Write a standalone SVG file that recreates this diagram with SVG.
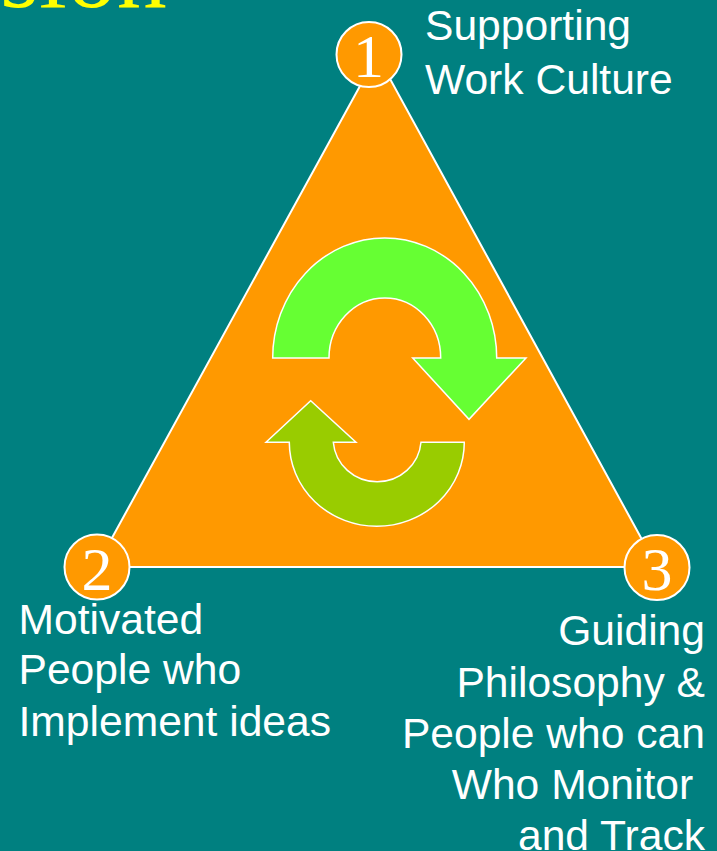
<svg xmlns="http://www.w3.org/2000/svg" width="717" height="851" viewBox="0 0 717 851">
<style>
.lbl{font-family:"Liberation Sans",Arial,sans-serif;font-size:42.6px;fill:#fff}
.num{font-family:"Liberation Serif","Times New Roman",serif;font-size:62px;fill:#fff;text-anchor:middle}
.badge{fill:#FF9900;stroke:#fff;stroke-width:2}
.arr{stroke:#fff;stroke-width:1.5;stroke-linejoin:miter}
</style>
<rect width="717" height="851" fill="#008080"/>
<text x="0" y="6.5" font-family="'Liberation Serif','Times New Roman',serif" font-size="100" fill="#FFFF00">sion</text>
<g id="triangle">
<polygon points="377,55 96,567 657,567" fill="#FF9900" stroke="#fff" stroke-width="2"/>
</g>
<g id="cycle">
<path class="arr" fill="#66FF33" d="M272.7,358 A112,120 0 0 1 496.7,358 L526,358 L469,419.3 L412.7,358 L440.7,358 A55.8,60 0 0 0 329,358 Z"/>
<path class="arr" fill="#99CC00" d="M464.3,442.3 A87.5,84 0 0 1 289.3,442.3 L266,442.3 L310.7,400.7 L356,442.3 L333.3,442.3 A44,43 0 0 0 421,442.3 Z"/>
</g>
<g id="node1">
<circle class="badge" cx="369" cy="54.5" r="32.5"/>
<text class="num" x="368.5" y="77">1</text>
<text class="lbl" x="425" y="39.5">Supporting</text>
<text class="lbl" x="425" y="93.5">Work Culture</text>
</g>
<g id="node2">
<circle class="badge" cx="97" cy="567" r="32.5"/>
<text class="num" x="97" y="590">2</text>
<text class="lbl" x="18.5" y="633.5">Motivated</text>
<text class="lbl" x="18.5" y="684">People who</text>
<text class="lbl" x="18.5" y="735.5">Implement ideas</text>
</g>
<g id="node3">
<circle class="badge" cx="657" cy="567.5" r="32.5"/>
<text class="num" x="657" y="590">3</text>
<g text-anchor="end">
<text class="lbl" x="705" y="645">Guiding</text>
<text class="lbl" x="705" y="696.5">Philosophy &amp;</text>
<text class="lbl" x="705" y="747.5">People who can</text>
<text class="lbl" x="705" y="798.5" xml:space="preserve">Who Monitor </text>
<text class="lbl" x="705" y="849.5">and Track</text>
</g>
</g>
</svg>
